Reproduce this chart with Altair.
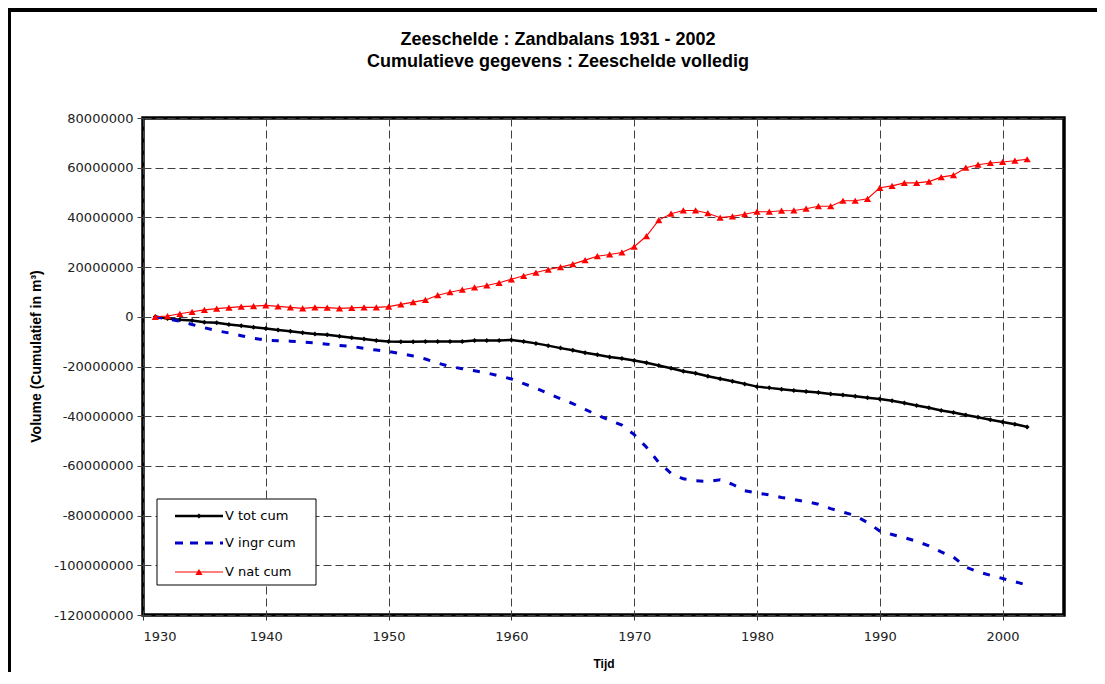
import altair as alt
import pandas as pd

# ---- data (values in millions of m3) ----
years = list(range(1931, 2003))

v_tot_cum = [
    0.0, -0.7, -1.2, -1.5, -2.2, -2.4, -3.1, -3.6, -4.2, -4.7,
    -5.3, -5.8, -6.4, -6.9, -7.2, -7.8, -8.4, -8.9, -9.5, -9.9,
    -10.0, -10.0, -9.9, -9.9, -9.9, -9.9, -9.5, -9.5, -9.5, -9.3,
    -9.9, -10.7, -11.6, -12.6, -13.5, -14.5, -15.3, -16.2, -16.8, -17.6,
    -18.5, -19.6, -20.7, -21.9, -22.7, -23.9, -24.9, -25.9, -27.0, -28.1,
    -28.6, -29.2, -29.7, -30.1, -30.5, -31.1, -31.5, -32.0, -32.6, -33.1,
    -33.8, -34.7, -35.7, -36.6, -37.7, -38.5, -39.5, -40.4, -41.4, -42.3,
    -43.2, -44.3,
]

v_ingr_cum = [
    0.0, -0.8, -1.8, -3.1, -4.4, -5.6, -6.5, -7.6, -8.6, -9.4,
    -9.6, -9.8, -10.1, -10.5, -11.0, -11.5, -11.9, -12.7, -13.4, -14.0,
    -14.8, -15.8, -17.0, -18.6, -20.0, -20.9, -21.7, -22.6, -23.8, -25.0,
    -26.9, -28.7, -30.9, -33.0, -34.9, -37.3, -39.5, -41.6, -43.6, -47.4,
    -52.5, -58.6, -63.0, -65.2, -66.0, -66.3, -65.6, -67.4, -70.0, -70.9,
    -71.7, -72.7, -73.5, -74.4, -75.4, -77.2, -78.6, -80.0, -82.8, -86.2,
    -87.6, -88.9, -90.3, -92.2, -94.6, -96.7, -100.7, -102.6, -104.0, -105.3,
    -106.6, -108.0,
]

v_nat_cum = [
    0.0, 0.3, 1.2, 2.0, 2.8, 3.3, 3.7, 4.1, 4.3, 4.6,
    4.2, 3.8, 3.4, 3.8, 3.7, 3.4, 3.6, 3.8, 3.8, 4.1,
    5.0, 5.9, 6.8, 8.7, 9.9, 10.9, 11.8, 12.6, 13.7, 15.1,
    16.5, 17.8, 19.0, 20.0, 21.2, 22.8, 24.4, 25.1, 25.9, 28.2,
    32.5, 38.9, 41.5, 42.8, 42.8, 41.7, 39.9, 40.4, 41.3, 42.3,
    42.3, 42.7, 42.8, 43.5, 44.5, 44.5, 46.7, 46.7, 47.5, 51.9,
    52.7, 53.9, 53.9, 54.4, 56.2, 57.0, 60.0, 61.2, 61.9, 62.3,
    62.8, 63.4,
]

series_names = ["V tot cum", "V ingr cum", "V nat cum"]
x_ticks = [1930, 1940, 1950, 1960, 1970, 1980, 1990, 2000]
y_ticks = [-120000000, -100000000, -80000000, -60000000, -40000000,
           -20000000, 0, 20000000, 40000000, 60000000, 80000000]

title_line1 = "Zeeschelde : Zandbalans 1931 - 2002"
title_line2 = "Cumulatieve gegevens : Zeeschelde volledig"
y_title = "Volume (Cumulatief in m³)"
x_title = "Tijd"


def frame(vals):
    return pd.DataFrame({"year": years, "value": [v * 1e6 for v in vals]})


df_tot = frame(v_tot_cum)
df_ingr = frame(v_ingr_cum)
df_nat = frame(v_nat_cum)

W, H = 921, 497
LABEL_FONT = "DejaVu Sans"
BOLD_FONT = "Liberation Sans"

x_enc = alt.X(
    "year:Q",
    scale=alt.Scale(domain=[1930, 2005], nice=False, zero=False),
    axis=alt.Axis(
        values=x_ticks, format="d", title=x_title,
        titleFont=BOLD_FONT, titleFontSize=12, titleFontWeight="bold",
        titleY=48, titleBaseline="middle",
        labelFont=LABEL_FONT, labelFontSize=13, labelColor="#222222",
        labelPadding=10, tickSize=5, tickColor="#333333",
        domain=False, grid=True,
    ),
)
y_enc = alt.Y(
    "value:Q",
    scale=alt.Scale(domain=[-120000000, 80000000], nice=False, zero=False),
    axis=alt.Axis(
        values=y_ticks, labelExpr="'' + datum.value", title=y_title,
        titleFont=BOLD_FONT, titleFontSize=14, titleFontWeight="bold",
        titleX=-107, titleY=238, titleAngle=-90,
        titleAlign="center", titleBaseline="middle",
        labelFont=LABEL_FONT, labelFontSize=13, labelColor="#222222",
        labelPadding=4, tickSize=6, tickColor="#444444",
        domain=False, grid=True,
    ),
)

tot_line = alt.Chart(df_tot).mark_line(color="black", strokeWidth=2.5).encode(x=x_enc, y=y_enc)
tot_pts = alt.Chart(df_tot).mark_point(shape="diamond", filled=True, size=25,
                                        color="black", opacity=1).encode(x="year:Q", y="value:Q")
ingr_line = alt.Chart(df_ingr).mark_line(color="#0000c8", strokeWidth=3,
                                         strokeDash=[7, 10]).encode(x="year:Q", y="value:Q")
nat_line = alt.Chart(df_nat).mark_line(color="#ff0000", strokeWidth=1.1).encode(x="year:Q", y="value:Q")
nat_pts = alt.Chart(df_nat).mark_point(shape="triangle-up", filled=True, size=52,
                                       color="#ff0000", opacity=1).encode(x="year:Q", y="value:Q")

one = pd.DataFrame({"k": [0]})


def text_layer(txt, x, y, size, bold=False, align="center", font=BOLD_FONT):
    kw = dict(align=align, baseline="middle", font=font, fontSize=size, color="black")
    if bold:
        kw["fontWeight"] = "bold"
    return alt.Chart(one).mark_text(**kw).encode(
        x=alt.value(x), y=alt.value(y), text=alt.value(txt))


# titles
t1 = text_layer(title_line1, 415, -78, 18, bold=True)
t2 = text_layer(title_line2, 415, -56, 18, bold=True)

# outer chart frame (left and top edges)
frame_left = alt.Chart(one).mark_rule(color="black", strokeWidth=4).encode(
    x=alt.value(-134), y=alt.value(-110), y2=alt.value(560))
frame_top = alt.Chart(one).mark_rule(color="black", strokeWidth=4).encode(
    x=alt.value(-136), x2=alt.value(960), y=alt.value(-108))

# legend
leg_box = alt.Chart(one).mark_rect(fill="white", stroke="black", strokeWidth=1).encode(
    x=alt.value(14), x2=alt.value(173), y=alt.value(381), y2=alt.value(467))
legend_layers = [leg_box]
leg_rows = [
    (series_names[0], 398, "black", 2.5, None, "diamond", 25),
    (series_names[1], 425, "#0000c8", 3, [8, 7], None, 0),
    (series_names[2], 454, "#ff0000", 1.1, None, "triangle-up", 52),
]
for name, yv, col, sw, dash, shape, size in leg_rows:
    rkw = dict(color=col, strokeWidth=sw)
    if dash:
        rkw["strokeDash"] = dash
    legend_layers.append(alt.Chart(one).mark_rule(**rkw).encode(
        x=alt.value(32), x2=alt.value(80), y=alt.value(yv)))
    if shape:
        legend_layers.append(alt.Chart(one).mark_point(
            shape=shape, filled=True, size=size, color=col, opacity=1).encode(
            x=alt.value(56), y=alt.value(yv)))
    legend_layers.append(text_layer(name, 82, yv, 13, align="left", font=LABEL_FONT))

chart = alt.layer(
    tot_line, tot_pts, ingr_line, nat_line, nat_pts,
    *legend_layers, t1, t2, frame_left, frame_top,
).properties(
    width=W, height=H,
    autosize=alt.AutoSizeParams(type="none"),
    padding={"left": 135, "top": 110, "right": 33, "bottom": 57},
    background="white",
).configure_view(
    stroke="black", strokeWidth=3.5,
).configure_axis(
    gridColor="#404040", gridDash=[8, 4], gridWidth=1, gridOpacity=1,
)

chart.save("out.html", embed_options={"renderer": "svg", "actions": False})
